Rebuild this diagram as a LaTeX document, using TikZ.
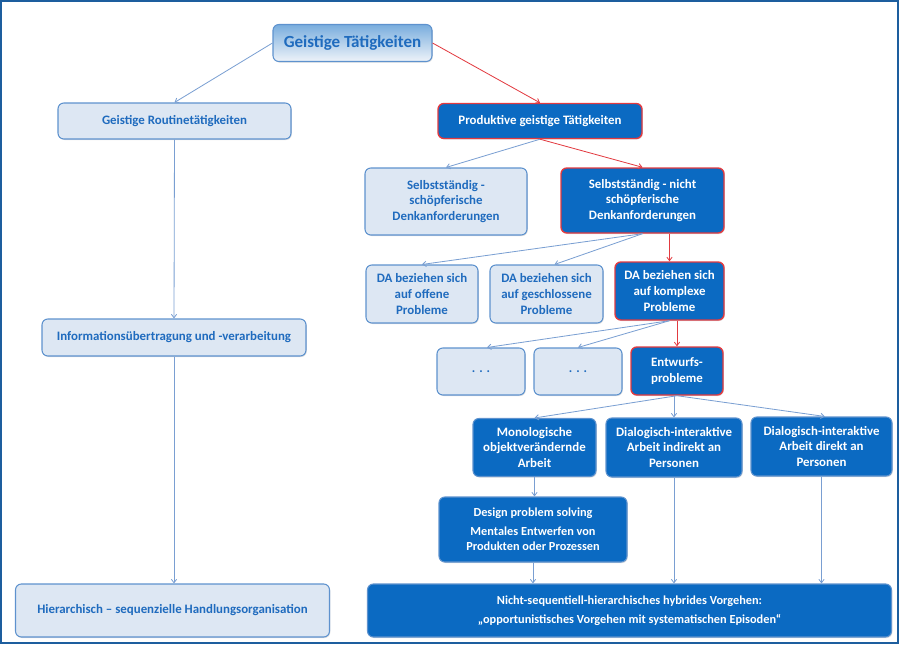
\documentclass[tikz,border=0pt]{standalone}
\usepackage{fontspec}
\setmainfont{Carlito}
\usetikzlibrary{arrows.meta,shadows}
\definecolor{cDark}{HTML}{0B6AC2}
\definecolor{cLight}{HTML}{DDE7F3}
\definecolor{cLightDraw}{HTML}{5E92CE}
\definecolor{cText}{HTML}{1F6BBE}
\definecolor{cRed}{HTML}{E23A40}
\definecolor{cArrow}{HTML}{7A9FD2}
\definecolor{cFrame}{HTML}{1D5E9E}
\tikzset{
  blk/.style={rounded corners=5pt, draw, align=center, inner sep=2pt,
              font=\fontsize{11}{13.5}\selectfont\bfseries,
              drop shadow={shadow xshift=0.7pt, shadow yshift=-0.9pt, opacity=0.25}},
  lite/.style={blk, draw=cLightDraw, line width=0.9pt, fill=cLight, text=cText},
  dark/.style={blk, draw=cLightDraw, line width=0.9pt, fill=cDark, text=white},
  hot/.style={dark, draw=cRed, line width=1.2pt},
  head/.style={blk, draw=cLightDraw, line width=0.9pt, top color=cDark!55!white,
               bottom color=cLight!50!white, text=cText,
               font=\fontsize{14.5}{17}\selectfont\bfseries},
  slim/.style={font=\fontsize{10.5}{13}\selectfont\bfseries},
  sz/.style 2 args={minimum width=#1*0.03cm, minimum height=#2*0.03cm},
  ar/.style={-{Straight Barb[length=3pt,width=4.5pt]}, line width=0.7pt, cArrow},
  arr/.style={ar, cRed},
}

\begin{document}
\begin{tikzpicture}[x=0.03cm, y=-0.03cm]
    \useasboundingbox (0,0) rectangle (900,644);
    \draw[cFrame, line width=1.6pt] (1,1) rectangle (898,643);

    % --- top and left column ---
    \node[head, sz={159}{37}] (gt)   at (352.5,43)  {Geistige Tätigkeiten};
    \node[lite, sz={233}{36}] (rout) at (174.5,121) {Geistige Routinetätigkeiten};
    \node[lite, sz={264}{37}] (info) at (174,337.5) {Informationsübertragung und -verarbeitung};
    \node[lite, sz={314}{53}] (hier) at (172.5,610.5) {Hierarchisch -- sequenzielle Handlungsorganisation};
    \draw[ar] (gt.west) -- (rout.north);
    \draw[ar] (rout.south) -- (info.north);
    \draw[ar] (info.south) -- (info.south |- hier.north);

    % --- productive branch ---
    \node[hot,  sz={204}{35}] (prod)     at (540,121)   {Produktive geistige Tätigkeiten};
    \node[lite, sz={162}{67}] (sschoepf) at (446,201.5) {Selbstständig -\\ schöpferische\\ Denkanforderungen};
    \node[hot,  sz={163}{65}] (snicht)   at (642.5,200.5) {Selbstständig - nicht\\ schöpferische\\ Denkanforderungen};
    \draw[arr] (gt.east) -- (prod.north);
    \draw[ar]  (prod.south) -- (sschoepf.north);
    \draw[arr] (prod.south) -- (snicht.north);

    \node[lite, sz={112}{58}] (daoff)    at (422,294)   {DA beziehen sich\\ auf offene\\ Probleme};
    \node[lite, sz={113}{58}] (dageschl) at (546.5,294) {DA beziehen sich\\ auf geschlossene\\ Probleme};
    \node[hot,  sz={109}{58}] (dakompl)  at (669.5,291) {DA beziehen sich\\ auf komplexe\\ Probleme};
    \draw[ar]  (snicht.south) -- (daoff.north);
    \draw[ar]  (snicht.south) -- ([xshift=0.24cm]dageschl.north);
    \draw[arr] (snicht.south -| dakompl) -- (dakompl.north);

    \node[lite, sz={88}{47}] (dots1) at (481,371.5) {. . .};
    \node[lite, sz={88}{47}] (dots2) at (578,371.5) {. . .};
    \node[hot,  sz={92}{48}] (entw)  at (677,371)   {Entwurfs-\\ probleme};
    \draw[ar]  (dakompl.south) -- ([xshift=0.18cm]dots1.north);
    \draw[ar]  (dakompl.south) -- (dots2.north);
    \draw[arr] (dakompl.south -| entw) -- (entw.north);

    \node[dark, sz={123}{58}] (mono) at (534.5,447.5) {Monologische\\ objektverändernde\\ Arbeit};
    \node[dark, sz={136}{59}] (dind) at (674,447.5)   {Dialogisch-interaktive\\ Arbeit indirekt an\\ Personen};
    \node[dark, sz={141}{59}] (ddir) at (821.5,446.5) {Dialogisch-interaktive\\ Arbeit direkt an\\ Personen};
    \draw[ar] (entw.south) -- (mono.north);
    \draw[ar] (entw.south -| dind) -- (dind.north);
    \draw[ar] (entw.south) -- ([xshift=0.1cm]ddir.north);

    % --- bottom ---
    \node[dark, slim, sz={188}{65}] (design) at (533,529.5)
      {Design problem solving\\[3pt] Mentales Entwerfen von\\ Produkten oder Prozessen};
    \node[dark, slim, sz={524}{53}] (nicht) at (629.5,610.5)
      {Nicht-sequentiell-hierarchisches hybrides Vorgehen:\\[3pt] „opportunistisches Vorgehen mit systematischen Episoden“};
    \draw[ar] (mono.south) -- (mono.south |- design.north);
    \draw[ar] (design.south) -- (design.south |- nicht.north);
    \draw[ar] (dind.south) -- (dind.south |- nicht.north);
    \draw[ar] (ddir.south) -- (ddir.south |- nicht.north);
  \end{tikzpicture}
\end{document}
